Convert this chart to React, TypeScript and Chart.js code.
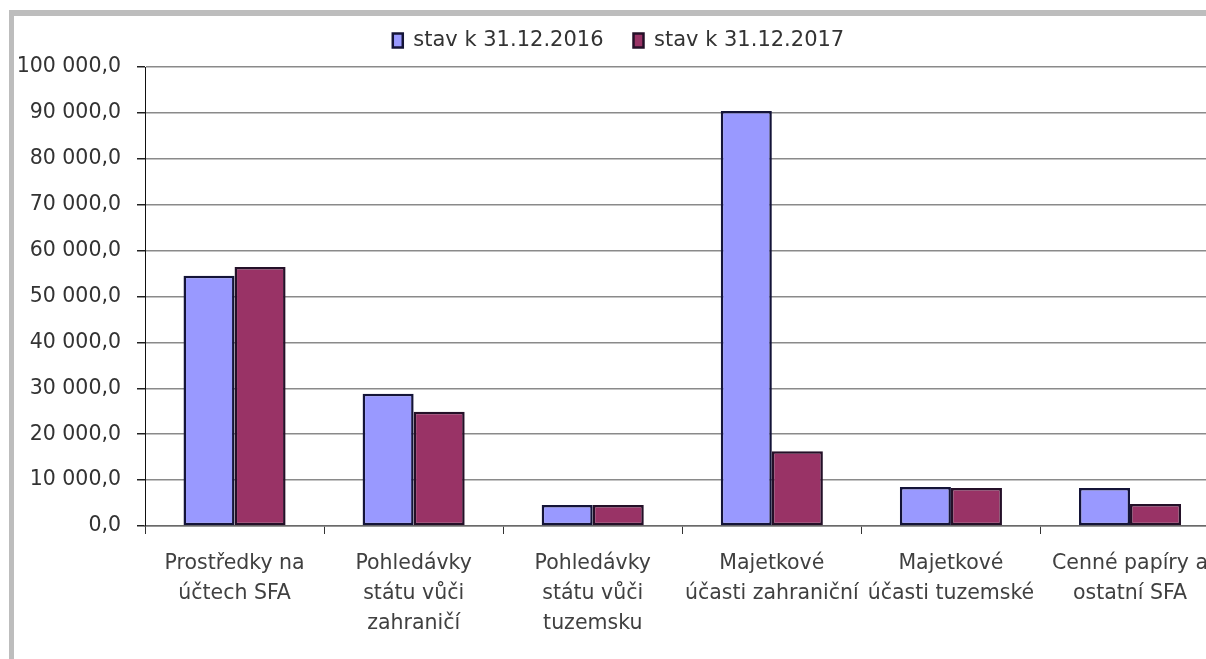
import React, { useEffect, useRef } from "react";
import { Chart, registerables } from "chart.js";

Chart.register(...registerables);

const categories: string[][] = [
  ["Prostředky na", "účtech SFA"],
  ["Pohledávky", "státu vůči", "zahraničí"],
  ["Pohledávky", "státu vůči", "tuzemsku"],
  ["Majetkové", "účasti zahraniční"],
  ["Majetkové", "účasti tuzemské"],
  ["Cenné papíry a", "ostatní SFA"],
];

const seriesNames = ["stav k 31.12.2016", "stav k 31.12.2017"];
const values2016 = [54500, 28800, 4600, 90400, 8500, 8300];
const values2017 = [56400, 24900, 4600, 16300, 8300, 4800];

const yMin = 0;
const yMax = 100000;
const yStep = 10000;

const FONT = "'DejaVu Sans', 'Open Sans', sans-serif";

function formatTick(v: number): string {
  const s = Math.round(v).toString().replace(/\B(?=(\d{3})+(?!\d))/g, " ");
  return s + ",0";
}

const legendGap = {
  id: "legendGap",
  beforeLayout(chart: any) {
    const lg = chart.legend;
    if (lg && !lg.__gapPatched) {
      const orig = lg.fit;
      lg.fit = function () {
        orig.call(this);
        this.height += 6;
      };
      lg.__gapPatched = true;
    }
  },
};

export default function App() {
  const ref = useRef<HTMLCanvasElement>(null);

  useEffect(() => {
    if (!ref.current) return;
    const chart = new Chart(ref.current, {
      type: "bar",
      data: {
        labels: categories,
        datasets: [
          {
            label: seriesNames[0],
            data: values2016,
            backgroundColor: "#9999FF",
            borderColor: "#141438",
            borderWidth: 2.5,
            borderSkipped: false,
          },
          {
            label: seriesNames[1],
            data: values2017,
            backgroundColor: "#993366",
            borderColor: "#241028",
            borderWidth: 2.5,
            borderSkipped: false,
          },
        ],
      },
      plugins: [legendGap],
      options: {
        animation: false,
        responsive: true,
        maintainAspectRatio: false,
        layout: { padding: { top: -16, left: 0, right: 0, bottom: 0 } },
        datasets: {
          bar: { categoryPercentage: 0.57, barPercentage: 1.0 },
        },
        plugins: {
          tooltip: { enabled: false },
          legend: {
            display: true,
            position: "top",
            labels: {
              font: { family: FONT, size: 21 },
              color: "#333333",
              boxWidth: 10,
              boxHeight: 14,
              padding: 30,
            },
          },
        },
        scales: {
          x: {
            type: "category",
            offset: true,
            grid: {
              display: true,
              offset: true,
              drawOnChartArea: false,
              drawTicks: true,
              tickLength: 8,
              color: "#333333",
            },
            border: { display: true, color: "#6a6a6a", width: 1.5 },
            ticks: {
              font: { family: FONT, size: 20.5, lineHeight: 1.46 },
              color: "#404040",
              maxRotation: 0,
              autoSkip: false,
              padding: 15,
            },
            afterFit: (scale: any) => {
              scale.height = 133;
            },
          },
          y: {
            min: yMin,
            max: yMax,
            ticks: {
              stepSize: yStep,
              font: { family: FONT, size: 20.5 },
              color: "#333333",
              padding: 16,
              callback: (v: any) => formatTick(Number(v)),
            },
            grid: {
              color: "#8a8a8a",
              lineWidth: 1.5,
              tickColor: "#222222",
              tickLength: 8,
              drawTicks: true,
            },
            border: { display: true, color: "#111111", width: 1 },
            afterFit: (scale: any) => {
              scale.width = 131;
            },
          },
        },
      },
    });
    return () => chart.destroy();
  }, []);

  return (
    <div
      style={{
        position: "fixed",
        left: 0,
        top: 0,
        width: 1206,
        height: 659,
        overflow: "hidden",
        background: "#ffffff",
      }}
    >
      <div
        style={{
          position: "absolute",
          left: 9,
          top: 10,
          width: 1197,
          height: 6,
          background: "#bdbdbd",
        }}
      />
      <div
        style={{
          position: "absolute",
          left: 9,
          top: 10,
          width: 5,
          height: 649,
          background: "#bdbdbd",
        }}
      />
      <div
        style={{
          position: "absolute",
          left: 14,
          top: 16,
          width: 1209,
          height: 643,
        }}
      >
        <canvas ref={ref} />
      </div>
    </div>
  );
}
